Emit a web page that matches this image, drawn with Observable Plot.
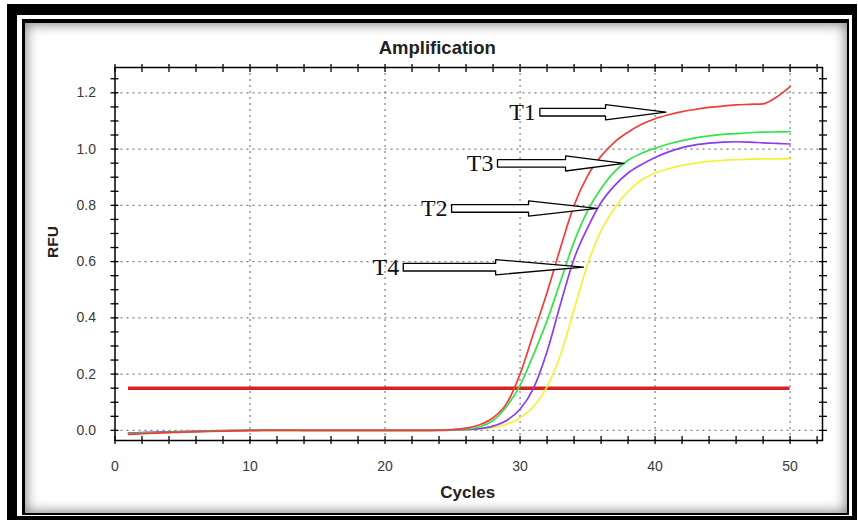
<!DOCTYPE html>
<html>
<head>
<meta charset="utf-8">
<script src="https://cdn.jsdelivr.net/npm/d3@7"></script>
<script src="https://cdn.jsdelivr.net/npm/@observablehq/plot@0.6"></script>
<style>
  html, body { margin: 0; padding: 0; background: #fff; }
  #wrap { position: relative; width: 858px; height: 523px; overflow: hidden; background: #fff; }
  #outer { position: absolute; left: 7px; top: 4px; width: 850px; height: 516px; box-sizing: border-box;
           border-style: solid; border-color: #000; border-width: 11px 5px 4px 10px; }
  #inner { position: absolute; left: 22px; top: 19px; width: 827px; height: 496px; box-sizing: border-box;
           border-style: solid; border-color: #000; border-width: 4px 2.5px 2px 3px;
           box-shadow: inset 0 0 12px 2px rgba(0,0,0,0.45); background: #fff; }
  #chart { position: absolute; left: 0; top: 0; }
</style>
</head>
<body>
<div id="wrap">
  <div id="outer"></div>
  <div id="inner"></div>
  <div id="chart"></div>
</div>
<script>
// ---- data ----
const cycles = [1,2,3,4,5,6,7,8,9,10,11,12,13,14,15,16,17,18,19,20,21,22,23,24,25,26,27,28,29,30,31,32,33,34,35,36,37,38,39,40,41,42,43,44,45,46,47,48,49,50];

const t1Red = [-0.014,-0.012,-0.010,-0.008,-0.006,-0.005,-0.004,-0.003,-0.002,-0.001,
  0,0,0,0,0,0,0,0,0,0,
  0,0,0,0.001,0.003,0.008,0.02,0.045,0.095,0.20,
  0.345,0.49,0.65,0.80,0.905,0.975,1.025,1.06,1.088,1.108,
  1.122,1.133,1.141,1.148,1.153,1.157,1.159,1.161,1.185,1.222];

const t3Green = [-0.012,-0.010,-0.008,-0.007,-0.005,-0.004,-0.003,-0.002,-0.001,0,
  0,0,0,0,0,0,0,0,0,0,
  0,0,0,0.001,0.002,0.005,0.012,0.035,0.085,0.16,
  0.27,0.39,0.53,0.67,0.78,0.86,0.92,0.96,0.985,1.003,
  1.018,1.03,1.04,1.047,1.052,1.055,1.058,1.06,1.061,1.062];

const t2Purple = [-0.010,-0.008,-0.006,-0.005,-0.004,-0.003,-0.002,-0.001,0,0.001,
  0.001,0.001,0.001,0,0,0,0,0,0,0,
  0,0,0,0,0.001,0.003,0.006,0.015,0.035,0.075,
  0.15,0.28,0.45,0.61,0.72,0.81,0.87,0.915,0.945,0.97,
  0.99,1.005,1.015,1.021,1.025,1.026,1.025,1.022,1.02,1.018];

const t4Yellow = [-0.010,-0.008,-0.006,-0.005,-0.004,-0.003,-0.002,-0.001,0,0,
  0,0,0,0,0,0,0,0,0,0,
  0,0,0,0,0.001,0.002,0.005,0.01,0.022,0.045,
  0.085,0.155,0.27,0.43,0.59,0.71,0.79,0.85,0.89,0.915,
  0.93,0.942,0.95,0.956,0.96,0.962,0.964,0.965,0.965,0.965];

const seriesNames = ["T4", "T2", "T3", "T1"];
const seriesColors = ["#f2f23a", "#8a3cf0", "#35e34a", "#f23c3c"];
const seriesValues = [t4Yellow, t2Purple, t3Green, t1Red];

const threshold = 0.15;
const thresholdCycles = [1, 50];

const xMajorTicks = [0, 10, 20, 30, 40, 50];
const xMinorTicks = [0,2,4,6,8,10,12,14,16,18,20,22,24,26,28,30,32,34,36,38,40,42,44,46,48,50,52];
const yMajorTicks = [0.0, 0.2, 0.4, 0.6, 0.8, 1.0, 1.2];
const yMinorTicks = [0,0.05,0.1,0.15,0.2,0.25,0.3,0.35,0.4,0.45,0.5,0.55,0.6,0.65,0.7,0.75,0.8,0.85,0.9,0.95,1.0,1.05,1.1,1.15,1.2,1.25];

// annotation arrows (in data units): label, tail x, head start x, tip x, y
const annLabels = ["T1", "T3", "T2", "T4"];
const annTail   = [31.47, 28.33, 24.93, 21.35];
const annHead   = [36.33, 33.37, 30.63, 28.19];
const annTip    = [40.8, 37.7, 35.7, 34.7];
const annY      = [1.131, 0.949, 0.789, 0.580];
const shaftHalf = 0.0135; // RFU
const headHalf  = 0.027;  // RFU

// ---- build tables ----
const curves = [];
seriesNames.forEach((name, i) => {
  cycles.forEach((c, j) => curves.push({series: name, cycle: c, rfu: seriesValues[i][j]}));
});

const arrowPts = [];
annLabels.forEach((lab, i) => {
  const y = annY[i];
  const pts = [
    [annTail[i], y + shaftHalf], [annHead[i], y + shaftHalf], [annHead[i], y + headHalf],
    [annTip[i], y], [annHead[i], y - headHalf], [annHead[i], y - shaftHalf],
    [annTail[i], y - shaftHalf], [annTail[i], y + shaftHalf]
  ];
  pts.forEach(([x, yy]) => arrowPts.push({id: lab, x, y: yy}));
});
const annTable = annLabels.map((lab, i) => ({label: lab, x: annTail[i] - 0.3, y: annY[i]}));

const blankFmt = () => "";

const chart = Plot.plot({
  width: 858,
  height: 523,
  marginLeft: 114.5,
  marginRight: 36,
  marginTop: 67,
  marginBottom: 83,
  style: {background: "transparent", fontFamily: "Liberation Sans, Arial, sans-serif", fontSize: "14px", color: "#3a3a3a"},
  x: {domain: [0, 52.4]},
  y: {domain: [-0.036, 1.29]},
  color: {domain: seriesNames, range: seriesColors},
  marks: [
    Plot.gridX(xMajorTicks.filter(d => d > 0), {stroke: "#808080", strokeOpacity: 1, strokeDasharray: "2,4", strokeWidth: 1.2}),
    Plot.gridY(yMajorTicks, {stroke: "#808080", strokeOpacity: 1, strokeDasharray: "2,4", strokeWidth: 1.2}),
    Plot.ruleY([threshold], {x1: thresholdCycles[0], x2: thresholdCycles[1], stroke: "#d42424", strokeWidth: 3.5}),
    Plot.line(curves, {x: "cycle", y: "rfu", z: "series", stroke: "series", strokeWidth: 1.7, curve: "monotone-x"}),
    Plot.line(arrowPts, {x: "x", y: "y", z: "id", fill: "white", stroke: "black", strokeWidth: 1.3, curve: "linear"}),
    Plot.text(annTable, {x: "x", y: "y", text: "label", textAnchor: "end", lineAnchor: "middle",
      fontFamily: "Liberation Serif, Times New Roman, serif", fontSize: 24, fill: "#111"}),
    Plot.frame({stroke: "black", strokeWidth: 1.5}),
    Plot.axisX({anchor: "bottom", ticks: xMinorTicks, tickSize: 8, dy: -4, tickFormat: blankFmt, stroke: "black", strokeWidth: 1.3, label: null}),
    Plot.axisX({anchor: "top", ticks: xMinorTicks, tickSize: 8, dy: 4, tickFormat: blankFmt, stroke: "black", strokeWidth: 1.3, label: null}),
    Plot.axisY({anchor: "left", ticks: yMinorTicks, tickSize: 8, dx: 4, tickFormat: blankFmt, stroke: "black", strokeWidth: 1.3, label: null}),
    Plot.axisY({anchor: "right", ticks: yMinorTicks, tickSize: 8, dx: -4, tickFormat: blankFmt, stroke: "black", strokeWidth: 1.3, label: null}),
    Plot.axisX({anchor: "bottom", ticks: xMajorTicks, tickSize: 0, tickPadding: 21, tickFormat: d3.format("d"), fontSize: 14, label: null}),
    Plot.axisY({anchor: "left", ticks: yMajorTicks, tickSize: 0, tickPadding: 19, tickFormat: d3.format(".1f"), fontSize: 14, label: null}),
    Plot.text(["Amplification"], {frameAnchor: "top", dx: -31.5, dy: -19.6, lineAnchor: "middle", fontWeight: "bold", fontSize: 18.5, fill: "#222"}),
    Plot.text(["Cycles"], {frameAnchor: "bottom", dx: -1, dy: 52, lineAnchor: "middle", fontWeight: "bold", fontSize: 17, fill: "#222"}),
    Plot.text(["RFU"], {frameAnchor: "left", dx: -62, dy: 4, rotate: -90, lineAnchor: "middle", fontWeight: "bold", fontSize: 15.5, fill: "#222"})
  ]
});
document.getElementById("chart").appendChild(chart);
</script>
</body>
</html>
